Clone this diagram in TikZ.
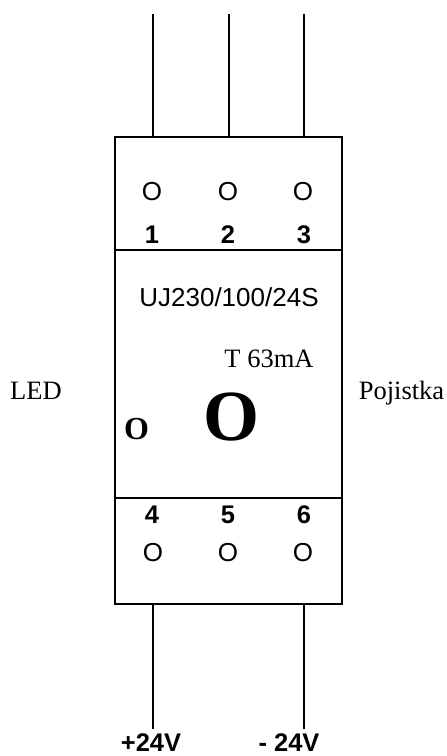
\documentclass[tikz,border=0pt]{standalone}
\usepackage{fontspec}
\setmainfont{Liberation Serif}
\newfontfamily\arialf{Liberation Sans}
\begin{document}
\begin{tikzpicture}[x=1pt,y=-1pt,
  wire/.style={draw=black,line width=1.6pt},
  boxline/.style={draw=black,line width=2pt},
  sans/.style={font=\arialf\fontsize{26}{28}\selectfont,inner sep=0pt,text=black},
  bsans/.style={font=\arialf\bfseries\fontsize{25.5}{28}\selectfont,inner sep=0pt,text=black,anchor=base},
  serif/.style={font=\fontsize{26.5}{28}\selectfont,inner sep=0pt,text=black,anchor=base}]
\useasboundingbox (0,0) rectangle (447,756);
\fill[white] (0,0) rectangle (447,756);
\coordinate (box-nw) at (115,136.5);
\coordinate (box-se) at (341.5,604);
\draw[boxline] (box-nw) rectangle (box-se);
\coordinate (l1) at (115,249.5); \coordinate (r1) at (341.5,249.5);
\coordinate (l2) at (115,497.5); \coordinate (r2) at (341.5,497.5);
\draw[boxline] (l1) -- (r1);
\draw[boxline] (l2) -- (r2);
\coordinate (t1) at (153,14); \coordinate (t1b) at (153,136.5);
\coordinate (t2) at (229,14); \coordinate (t2b) at (229,136.5);
\coordinate (t3) at (304,14); \coordinate (t3b) at (304,136.5);
\coordinate (b1) at (153,604); \coordinate (b1b) at (153,728.5);
\coordinate (b3) at (304,604); \coordinate (b3b) at (304,728.5);
\draw[wire] (t1) -- (t1b);
\draw[wire] (t2) -- (t2b);
\draw[wire] (t3) -- (t3b);
\draw[wire] (b1) -- (b1b);
\draw[wire] (b3) -- (b3b);
\node[sans] (o1) at (152,192) {O};
\node[sans] (o2) at (228,192) {O};
\node[sans] (o3) at (303,192) {O};
\node[bsans] (n1) at (152,243) {1};
\node[bsans] (n2) at (228,243) {2};
\node[bsans] (n3) at (304,243) {3};
\node[sans,anchor=base] (title) at (229,306) {UJ230/100/24S};
\node[serif] (fuse) at (269,367) {T 63mA};
\node[serif] (led) at (36,399) {LED};
\node[serif] (poj) at (401.5,399) {Pojistka};
\node[font=\bfseries\fontsize{32}{34}\selectfont,inner sep=0pt] (ledo) at (136.5,429) {O};
\node[font=\bfseries\fontsize{72}{74}\selectfont,inner sep=0pt] (bigo) at (232,417) {O};
\node[bsans] (n4) at (152,523) {4};
\node[bsans] (n5) at (228,523) {5};
\node[bsans] (n6) at (304,523) {6};
\node[sans] (o4) at (153,553) {O};
\node[sans] (o5) at (228,553) {O};
\node[sans] (o6) at (303,553) {O};
\node[bsans] (p24) at (151,751.5) {+24V};
\node[bsans] (m24) at (289,751.5) {- 24V};
\end{tikzpicture}
\end{document}
